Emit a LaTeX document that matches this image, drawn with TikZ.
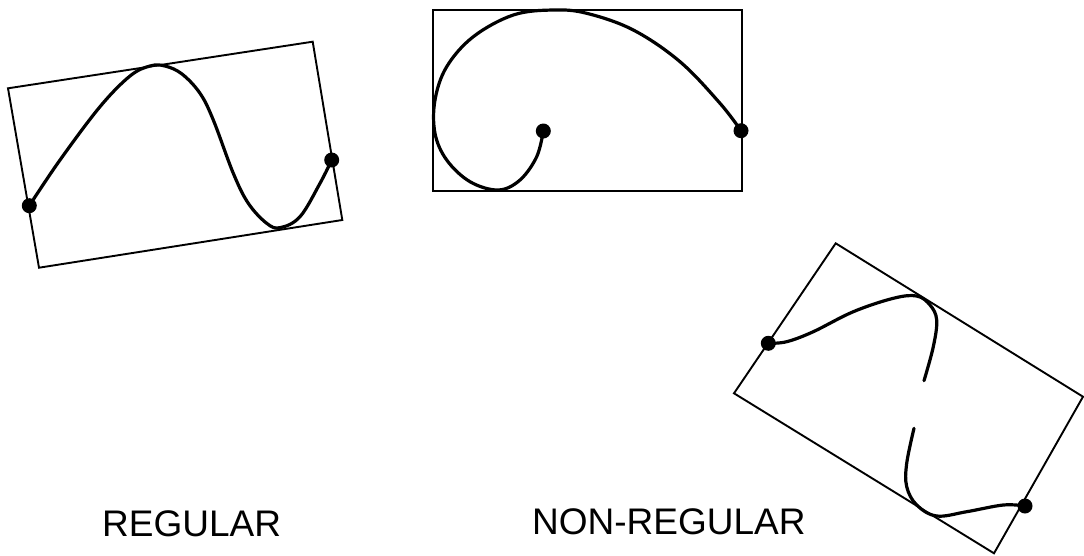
\documentclass[tikz,border=0pt]{standalone}
\usepackage{fontspec}
\setmainfont{Liberation Sans}
\begin{document}
\begin{tikzpicture}[x=1pt,y=-1pt,
  frame/.style={line width=1.9pt, line join=miter},
  curve/.style={line width=3.2pt, line cap=round},
  dot/.style={circle, fill=black, inner sep=0pt, minimum size=15pt},
  label/.style={font=\fontsize{37}{40}\selectfont, inner sep=0pt, anchor=base west}]
\useasboundingbox (0,0) rectangle (1084,555);
% left: regular
\draw[frame] (8,88.3) -- (312.7,41.7) -- (342.3,220) -- (39,267.7) -- cycle;
\draw[curve] plot[smooth, tension=0.6] coordinates {(29.3,205.7) (60,160) (100,106.7) (130,76) (150,66) (165,66) (182,74) (200,93.3) (213.3,120) (233.3,173.3) (248.3,203.3) (266.7,223.3) (280,227.7) (300,216.7) (320,183.3) (331.7,160)};
\node[dot] (l1) at (29.3,205.7) {};
\node[dot] (l2) at (331.7,160) {};
% middle: non-regular spiral
\draw[frame] (432.7,10) rectangle (741.7,190.7);
\draw[curve] plot[smooth, tension=0.6] coordinates {(741,130.7) (720,103.3) (680,61.7) (633.3,30) (586.7,13.3) (553.3,10) (513.3,15) (473.3,36.7) (446.7,66.7) (435,100) (435,133.3) (446.7,160) (470,181.7) (498.3,190) (520,180) (536.7,156.7) (543.3,131)};
\node[dot] (m1) at (741,130.7) {};
\node[dot] (m2) at (543.3,131) {};
% right: non-regular
\draw[frame] (835.7,243.3) -- (1083,396.7) -- (994,553.3) -- (734,393.3) -- cycle;
\draw[curve] plot[smooth, tension=0.6] coordinates {(768.3,343.3) (786.7,341.7) (813.3,331.7) (853.3,311.7) (893.3,298.3) (916.7,296) (930,305) (936.7,320) (933.3,346.7) (924,380.7)};
\draw[curve] plot[smooth, tension=0.6] coordinates {(914,428.3) (906.7,463.3) (906.7,486.7) (916.7,505) (936.7,516) (966.7,511.7) (1003.3,505) (1025,506)};
\node[dot] (r1) at (768.3,343.3) {};
\node[dot] (r2) at (1025,506) {};
% labels
\node[label] (reg) at (102,536.5) {REGULAR};
\node[label] (nonreg) at (532,534.5) {NON-REGULAR};
\end{tikzpicture}
\end{document}
